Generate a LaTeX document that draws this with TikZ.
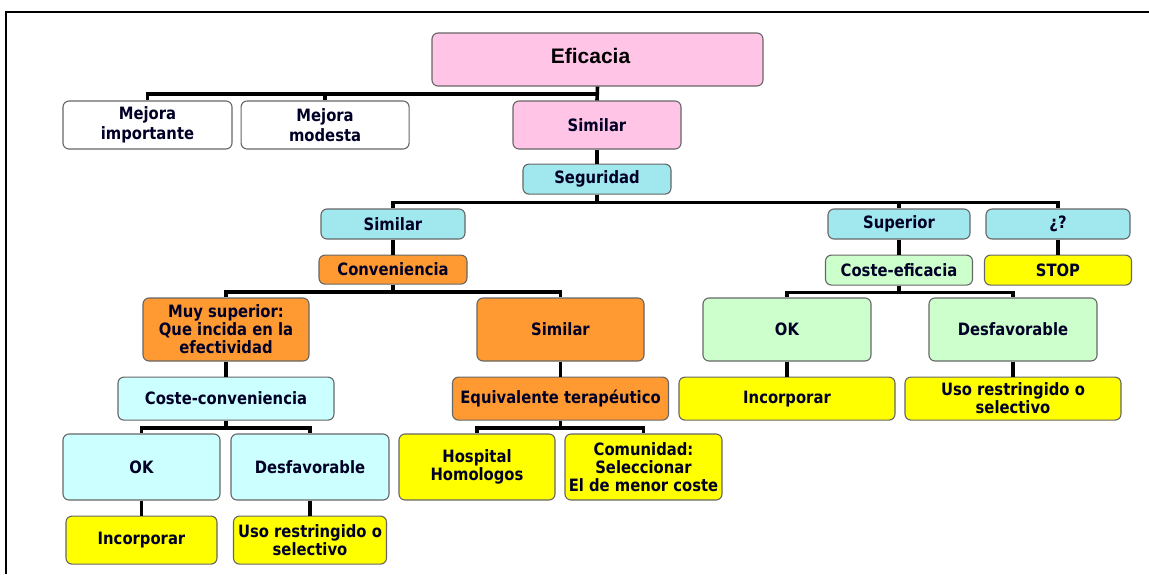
\documentclass[tikz,border=0pt]{standalone}
\usepackage{fontspec}
\setmainfont{DejaVu Sans}[FakeStretch=0.87]
\newfontfamily\titlefont{Liberation Sans}[UprightFont={* Bold}]
\usepackage{tikz}
\usetikzlibrary{positioning}

\definecolor{pinkfill}{HTML}{FFC4E6}
\definecolor{tealfill}{HTML}{A0E8EE}
\definecolor{orangefill}{HTML}{FF9A33}
\definecolor{cyanfill}{HTML}{CCFFFF}
\definecolor{greenfill}{HTML}{CCFFCC}
\definecolor{yellowfill}{HTML}{FFFF00}

\tikzset{
  box/.style={draw=black!60, line width=1.1pt, rounded corners=6pt, align=center,
    inner sep=0pt, text=black!85!blue, font=\bfseries\fontsize{17}{18}\selectfont},
  whitebox/.style={box, fill=white, font=\bfseries\fontsize{17}{20.5}\selectfont},
  pinkbox/.style={box, fill=pinkfill},
  tealbox/.style={box, fill=tealfill},
  orangebox/.style={box, fill=orangefill},
  cyanbox/.style={box, fill=cyanfill},
  greenbox/.style={box, fill=greenfill},
  yellowbox/.style={box, fill=yellowfill},
  link/.style={line width=3.6pt, black}
}

\begin{document}
\begin{tikzpicture}[x=1pt, y=-1pt, node distance=15pt]
\useasboundingbox (0,0) rectangle (1149,574);
\draw[line width=2pt] (6,574) -- (6,12) -- (1149,12);

\node[pinkbox, minimum width=331pt, minimum height=53pt, text=black, font=\titlefont\fontsize{21}{23}\selectfont] (eficacia) at (597.5,59.5) {\raisebox{7pt}{Eficacia\hspace{14pt}}};
\node[whitebox, minimum width=169pt, minimum height=48pt] (mimportante) at (147.5,125) {Mejora\\importante};
\node[whitebox, minimum width=168pt, minimum height=48pt, right=8pt of mimportante] (mmodesta) {Mejora\\modesta};
\node[pinkbox, minimum width=168pt, minimum height=48pt] (similarA) at (597,125) {Similar};
\node[tealbox, minimum width=148pt, minimum height=30pt, below=14pt of similarA] (seguridad) {Seguridad};

\node[tealbox, minimum width=144pt, minimum height=30pt] (similarB) at (393,224) {Similar};
\node[tealbox, minimum width=142pt, minimum height=30pt] (superior) at (899,224) {Superior};
\node[tealbox, minimum width=144pt, minimum height=30pt] (duda) at (1058,224) {¿?};
\node[orangebox, minimum width=148pt, minimum height=29pt, below=of similarB] (conveniencia) {Conveniencia};
\node[greenbox, minimum width=147pt, minimum height=30pt, below=of superior] (cesteficacia) {Coste-eficacia};
\node[yellowbox, minimum width=147pt, minimum height=30pt, below=of duda] (stop) {STOP};

\node[orangebox, minimum width=166pt, minimum height=63pt] (muysuperior) at (226,329.5) {Muy superior:\\Que incida en la\\efectividad};
\node[orangebox, minimum width=167pt, minimum height=63pt] (similarC) at (560.5,329.5) {Similar};
\node[cyanbox, minimum width=216pt, minimum height=43pt, below=of muysuperior] (cconveniencia) {Coste-conveniencia};
\node[orangebox, minimum width=216pt, minimum height=43pt, below=of similarC] (equivalente) {Equivalente terapéutico};

\node[cyanbox, minimum width=157pt, minimum height=66pt] (okA) at (141.5,467) {OK};
\node[cyanbox, minimum width=158pt, minimum height=66pt] (desfavA) at (310,467) {Desfavorable};
\node[yellowbox, minimum width=151pt, minimum height=48pt, below=of okA] (incorporarA) {Incorporar};
\node[yellowbox, minimum width=153pt, minimum height=48pt, below=of desfavA] (usoA) {Uso restringido o\\selectivo};
\node[yellowbox, minimum width=156pt, minimum height=66pt] (hospital) at (477,467) {Hospital\\Homologos};
\node[yellowbox, minimum width=157pt, minimum height=66pt] (comunidad) at (643.5,467) {Comunidad:\\Seleccionar\\El de menor coste};

\node[greenbox, minimum width=168pt, minimum height=63pt] (okB) at (787,329.5) {OK};
\node[greenbox, minimum width=168pt, minimum height=63pt] (desfavB) at (1013,329.5) {Desfavorable};
\node[yellowbox, minimum width=216pt, minimum height=43pt, below=of okB] (incorporarB) {Incorporar};
\node[yellowbox, minimum width=216pt, minimum height=43pt, below=of desfavB] (usoB) {Uso restringido o\\selectivo};

\draw[link] (eficacia.south) -- ++(0,7.5) -| (mimportante.north);
\draw[link] (eficacia.south) -- ++(0,7.5) -| (mmodesta.north);
\draw[link] (eficacia.south) -- (similarA.north);
\draw[link] (similarA.south) -- (seguridad.north);
\draw[link] (seguridad.south) -- ++(0,8) -| (similarB.north);
\draw[link] (seguridad.south) -- ++(0,8) -| (superior.north);
\draw[link] (seguridad.south) -- ++(0,8) -| (duda.north);
\draw[link] (similarB.south) -- (conveniencia.north);
\draw[link] (superior.south) -- (cesteficacia.north);
\draw[link] (duda.south) -- (stop.north);
\draw[link] (conveniencia.south) -- ++(0,7.5) -| (muysuperior.north);
\draw[link] (conveniencia.south) -- ++(0,7.5) -| (similarC.north);
\draw[link] (cesteficacia.south) -- ++(0,7) -| (okB.north);
\draw[link] (cesteficacia.south) -- ++(0,7) -| (desfavB.north);
\draw[link] (muysuperior.south) -- (cconveniencia.north);
\draw[link] (similarC.south) -- (equivalente.north);
\draw[link] (okB.south) -- (incorporarB.north);
\draw[link] (desfavB.south) -- (usoB.north);
\draw[link] (cconveniencia.south) -- ++(0,7.5) -| (okA.north);
\draw[link] (cconveniencia.south) -- ++(0,7.5) -| (desfavA.north);
\draw[link] (equivalente.south) -- ++(0,7.5) -| (hospital.north);
\draw[link] (equivalente.south) -- ++(0,7.5) -| (comunidad.north);
\draw[link] (okA.south) -- (incorporarA.north);
\draw[link] (desfavA.south) -- (usoA.north);
\end{tikzpicture}
\end{document}
